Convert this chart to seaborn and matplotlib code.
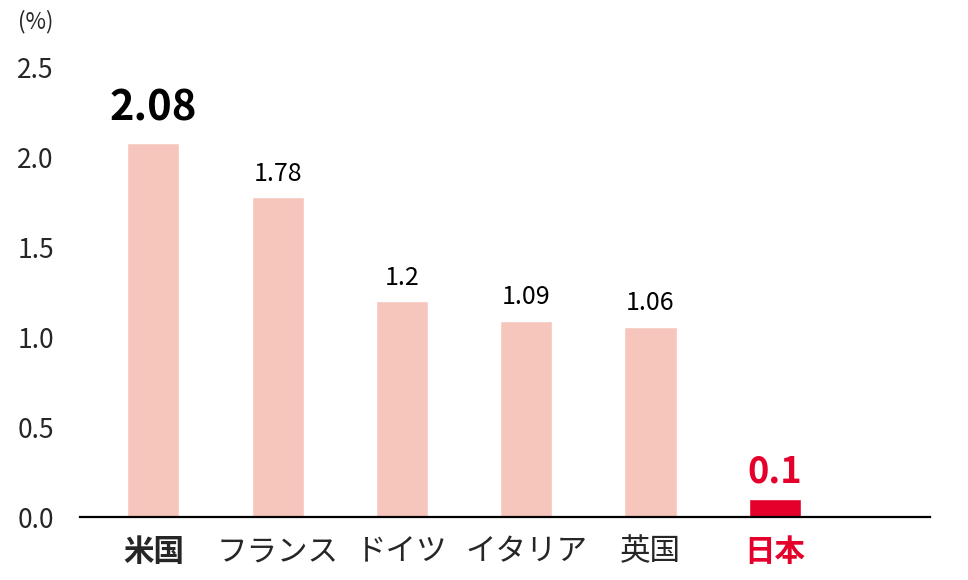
import matplotlib
matplotlib.use("Agg")
import matplotlib.pyplot as plt
import seaborn as sns
import pandas as pd

countries = ["米国", "フランス", "ドイツ", "イタリア", "英国", "日本"]
values = [2.08, 1.78, 1.2, 1.09, 1.06, 0.1]
value_labels = ["2.08", "1.78", "1.2", "1.09", "1.06", "0.1"]
yticks = [0.0, 0.5, 1.0, 1.5, 2.0, 2.5]

PINK = "#F6C6BD"
RED = "#E4002B"

sns.set_style("white")
plt.rcParams["font.family"] = ["Noto Sans CJK JP", "DejaVu Sans"]

df = pd.DataFrame({"country": countries, "value": values})
colors = [PINK] * 5 + [RED]

fig = plt.figure(figsize=(9.68, 5.8), dpi=100)
ax = fig.add_axes([0.0826, 0.1086, 0.8784, 0.7742])
sns.barplot(data=df, x="country", y="value", hue="country", palette=colors,
            legend=False, width=0.42, saturation=1, ax=ax)

ax.set_xlim(-0.59, 6.25)
ax.set_ylim(0, 2.5)
ax.set_yticks(yticks)
ax.set_yticklabels([f"{t:.1f}" for t in yticks], fontsize=19, ha="left")
ax.tick_params(axis="y", length=0, pad=45)
ax.tick_params(axis="x", length=0, pad=14)
ax.set_xlabel("")
ax.set_ylabel("")

for spine in ["top", "right", "left"]:
    ax.spines[spine].set_visible(False)
ax.spines["bottom"].set_color("black")
ax.spines["bottom"].set_linewidth(1.6)

for i, lab in enumerate(ax.get_xticklabels()):
    lab.set_fontsize(22)
    if i == 0:
        lab.set_fontweight("bold")
    if i == 5:
        lab.set_color(RED)
        lab.set_fontweight("bold")

for i, (v, txt) in enumerate(zip(values, value_labels)):
    if i == 0:
        ax.text(i, v + 0.08, txt, ha="center", va="bottom", fontsize=30,
                fontweight="bold", color="black")
    elif i == 5:
        ax.text(i, v + 0.05, txt, ha="center", va="bottom", fontsize=26,
                fontweight="bold", color=RED)
    else:
        ax.text(i, v + 0.06, txt, ha="center", va="bottom", fontsize=18,
                color="black")

fig.text(18 / 968, 1 - 22 / 580, "(%)", ha="left", va="center", fontsize=16)

fig.savefig("out.png", dpi=100)
